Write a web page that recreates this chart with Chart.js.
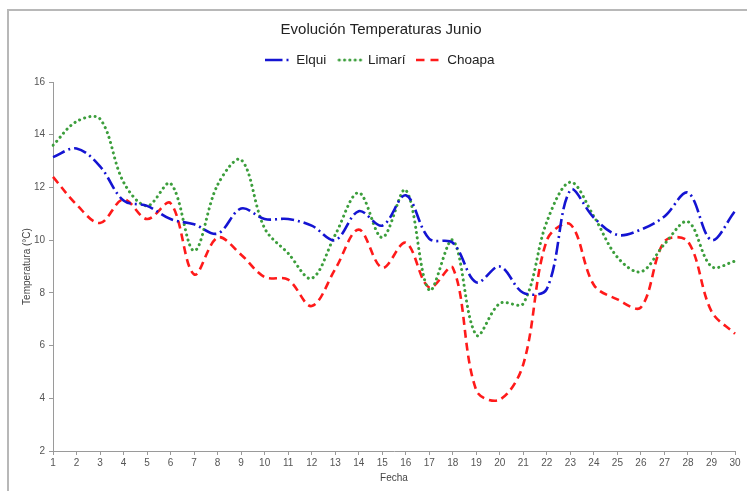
<!DOCTYPE html>
<html>
<head>
<meta charset="utf-8">
<title>Evolución Temperaturas Junio</title>
<script src="https://cdn.jsdelivr.net/npm/chart.js@4/dist/chart.umd.min.js"></script>
<style>
  html, body { margin: 0; padding: 0; background: #fff; }
  body { width: 747px; height: 491px; position: relative; overflow: hidden; }
  #frame {
    position: absolute; left: 7px; top: 9px; right: 0; bottom: 0;
    border-left: 2px solid #b8b8b8; border-top: 2px solid #b8b8b8;
  }
  #wrap { position: absolute; left: 0; top: 0; width: 747px; height: 491px; }
</style>
</head>
<body>
<div id="frame"></div>
<div id="wrap"><canvas id="chart" width="747" height="491"></canvas></div>
<script>
// Days of June
const dias = ['1','2','3','4','5','6','7','8','9','10','11','12','13','14','15',
              '16','17','18','19','20','21','22','23','24','25','26','27','28','29','30'];

// Daily temperatures (°C) per valley
const elqui = [13.15, 13.48, 12.8, 11.5, 11.3, 10.8, 10.6, 10.25, 11.2, 10.8,
               10.8, 10.55, 10.0, 11.1, 10.55, 11.7, 10.05, 9.9, 8.4, 9.0,
               8.0, 8.15, 11.9, 10.85, 10.2, 10.4, 10.9, 11.8, 10.0, 11.1];
const limari = [13.6, 14.5, 14.6, 12.2, 11.3, 12.15, 9.6, 12.1, 13.05, 10.45,
                9.5, 8.55, 10.2, 11.8, 10.1, 11.9, 8.1, 10.0, 6.4, 7.6,
                7.6, 10.7, 12.2, 10.9, 9.35, 8.8, 9.85, 10.7, 9.0, 9.2];
const choapa = [12.4, 11.35, 10.65, 11.55, 10.8, 11.4, 8.7, 10.1, 9.45, 8.6,
                8.5, 7.5, 8.9, 10.4, 8.95, 9.9, 8.2, 8.95, 4.3, 3.95,
                5.3, 10.0, 10.6, 8.3, 7.75, 7.45, 9.95, 9.95, 7.3, 6.45];

const FONT = "'Liberation Sans', Arial, sans-serif";
const AXIS = '#9a9a9a';
const TICK_TEXT = '#555555';

// Line styles of the three series (legendDash: pattern of the short legend sample)
const estilos = {
  elqui:  { color: '#1414d2', width: 2.6, dash: [13, 4, 2, 4], legendDash: [17, 4, 2, 10], cap: 'butt' },
  limari: { color: '#3c9e3c', width: 3,   dash: [0.1, 5.2],    legendDash: [0.1, 5.2],     cap: 'round' },
  choapa: { color: '#ff1a1a', width: 2.6, dash: [8, 5],        legendDash: [8, 6],         cap: 'butt' }
};

// Small dashed line sample used as the legend symbol
function muestra(e) {
  const c = document.createElement('canvas');
  c.width = 26; c.height = 6;
  const g = c.getContext('2d');
  g.strokeStyle = e.color;
  g.lineWidth = e.width;
  g.lineCap = e.cap;
  g.setLineDash(e.legendDash);
  g.beginPath();
  g.moveTo(e.cap === 'round' ? 2 : 0, 3);
  g.lineTo(26, 3);
  g.stroke();
  return c;
}

function serie(label, data, e) {
  return {
    label, data,
    borderColor: e.color, backgroundColor: e.color,
    borderWidth: e.width, borderDash: e.dash, borderCapStyle: e.cap,
    pointRadius: 0, pointHoverRadius: 0, pointStyle: muestra(e), fill: false
  };
}

// Empty block that separates the legend from the plot area
const spacer = { display: true, text: '', position: 'top', weight: 500,
                 font: { size: 1, lineHeight: 1 }, padding: { top: 4.25, bottom: 0 } };

new Chart(document.getElementById('chart'), {
  type: 'line',
  data: {
    labels: dias,
    datasets: [
      serie('Elqui', elqui, estilos.elqui),
      serie('Limarí', limari, estilos.limari),
      serie('Choapa', choapa, estilos.choapa)
    ]
  },
  options: {
    responsive: false,
    animation: false,
    devicePixelRatio: 1,
    layout: { padding: { left: 27, right: 12, top: 0, bottom: 0 } },
    elements: { line: { tension: 0.35 } },
    plugins: {
      title: {
        display: true, text: 'Evolución Temperaturas Junio', color: '#222',
        font: { family: FONT, size: 15, weight: 'normal', lineHeight: 1 },
        padding: { top: 22.5, bottom: 2.75 }
      },
      subtitle: spacer,
      legend: {
        display: true, position: 'top',
        labels: {
          usePointStyle: true, pointStyleWidth: 22,
          color: '#222', padding: 13,
          font: { family: FONT, size: 13.5 }
        }
      },
      tooltip: { enabled: false }
    },
    scales: {
      x: {
        type: 'category',
        offset: false,
        grid: { display: true, drawOnChartArea: false, drawTicks: true, tickLength: 4, color: AXIS },
        border: { display: true, color: AXIS, width: 1 },
        ticks: { autoSkip: false, maxRotation: 0, padding: 2, color: TICK_TEXT,
                 font: { family: FONT, size: 10 } },
        title: { display: true, text: 'Fecha', color: '#444',
                 font: { family: FONT, size: 10 }, padding: { top: 0, bottom: 7 } },
        afterFit: (s) => { s.height = 40; }
      },
      y: {
        min: 2, max: 16,
        grid: { display: true, drawOnChartArea: false, drawTicks: true, tickLength: 4, color: AXIS },
        border: { display: true, color: AXIS, width: 1 },
        ticks: { stepSize: 2, padding: 4, color: TICK_TEXT, font: { family: FONT, size: 10 } },
        title: { display: true, text: 'Temperatura (°C)', color: '#444',
                 font: { family: FONT, size: 10 }, padding: { top: -6, bottom: 0 } },
        afterFit: (s) => { s.width = 26; }
      }
    }
  }
});
</script>
</body>
</html>
